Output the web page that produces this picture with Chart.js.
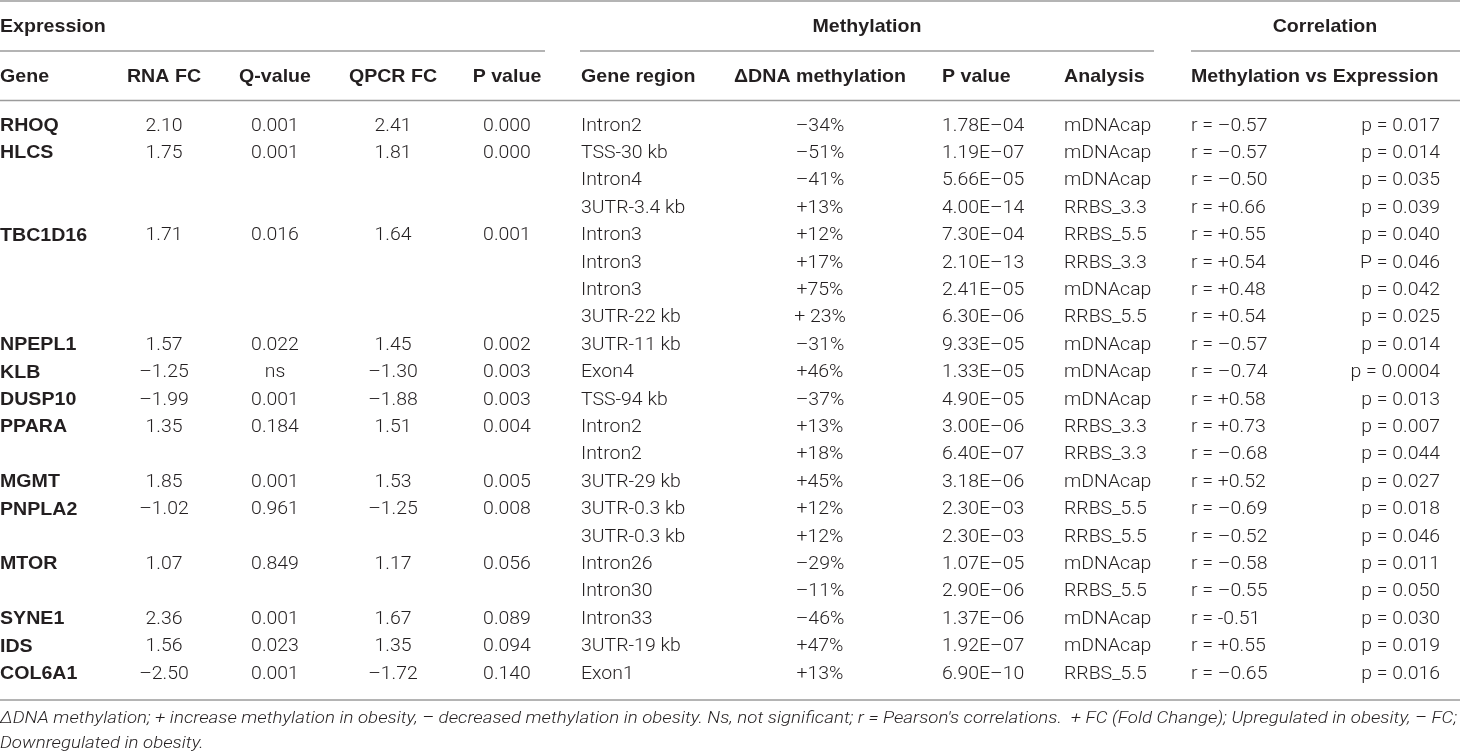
<!DOCTYPE html>
<html>
<head>
<meta charset="utf-8">
<script src="https://cdn.jsdelivr.net/npm/chart.js@4.4.0/dist/chart.umd.min.js"></script>
<style>
  html, body { margin: 0; padding: 0; background: #fff; }
  #wrap { width: 1460px; height: 756px; position: relative; }
</style>
</head>
<body>
<div id="wrap"><canvas id="tbl"></canvas></div>
<script>
// table values, one array per column (rows top to bottom)
var genes = ['RHOQ', 'HLCS', '', '', 'TBC1D16', '', '', '', 'NPEPL1', 'KLB', 'DUSP10', 'PPARA', '', 'MGMT', 'PNPLA2', '', 'MTOR', '', 'SYNE1', 'IDS', 'COL6A1'];
var rnaFC = ['2.10', '1.75', '', '', '1.71', '', '', '', '1.57', '–1.25', '–1.99', '1.35', '', '1.85', '–1.02', '', '1.07', '', '2.36', '1.56', '–2.50'];
var qValue = ['0.001', '0.001', '', '', '0.016', '', '', '', '0.022', 'ns', '0.001', '0.184', '', '0.001', '0.961', '', '0.849', '', '0.001', '0.023', '0.001'];
var qpcrFC = ['2.41', '1.81', '', '', '1.64', '', '', '', '1.45', '–1.30', '–1.88', '1.51', '', '1.53', '–1.25', '', '1.17', '', '1.67', '1.35', '–1.72'];
var pExpr = ['0.000', '0.000', '', '', '0.001', '', '', '', '0.002', '0.003', '0.003', '0.004', '', '0.005', '0.008', '', '0.056', '', '0.089', '0.094', '0.140'];
var geneRegion = ['Intron2', 'TSS-30 kb', 'Intron4', '3UTR-3.4 kb', 'Intron3', 'Intron3', 'Intron3', '3UTR-22 kb', '3UTR-11 kb', 'Exon4', 'TSS-94 kb', 'Intron2', 'Intron2', '3UTR-29 kb', '3UTR-0.3 kb', '3UTR-0.3 kb', 'Intron26', 'Intron30', 'Intron33', '3UTR-19 kb', 'Exon1'];
var deltaMeth = ['–34%', '–51%', '–41%', '+13%', '+12%', '+17%', '+75%', '+ 23%', '–31%', '+46%', '–37%', '+13%', '+18%', '+45%', '+12%', '+12%', '–29%', '–11%', '–46%', '+47%', '+13%'];
var pMeth = ['1.78E–04', '1.19E–07', '5.66E–05', '4.00E–14', '7.30E–04', '2.10E–13', '2.41E–05', '6.30E–06', '9.33E–05', '1.33E–05', '4.90E–05', '3.00E–06', '6.40E–07', '3.18E–06', '2.30E–03', '2.30E–03', '1.07E–05', '2.90E–06', '1.37E–06', '1.92E–07', '6.90E–10'];
var analysis = ['mDNAcap', 'mDNAcap', 'mDNAcap', 'RRBS_3.3', 'RRBS_5.5', 'RRBS_3.3', 'mDNAcap', 'RRBS_5.5', 'mDNAcap', 'mDNAcap', 'mDNAcap', 'RRBS_3.3', 'RRBS_3.3', 'mDNAcap', 'RRBS_5.5', 'RRBS_5.5', 'mDNAcap', 'RRBS_5.5', 'mDNAcap', 'mDNAcap', 'RRBS_5.5'];
var corrR = ['r = –0.57', 'r = –0.57', 'r = –0.50', 'r = +0.66', 'r = +0.55', 'r = +0.54', 'r = +0.48', 'r = +0.54', 'r = –0.57', 'r = –0.74', 'r = +0.58', 'r = +0.73', 'r = –0.68', 'r = +0.52', 'r = –0.69', 'r = –0.52', 'r = –0.58', 'r = –0.55', 'r = -0.51', 'r = +0.55', 'r = –0.65'];
var corrP = ['p = 0.017', 'p = 0.014', 'p = 0.035', 'p = 0.039', 'p = 0.040', 'P = 0.046', 'p = 0.042', 'p = 0.025', 'p = 0.014', 'p = 0.0004', 'p = 0.013', 'p = 0.007', 'p = 0.044', 'p = 0.027', 'p = 0.018', 'p = 0.046', 'p = 0.011', 'p = 0.050', 'p = 0.030', 'p = 0.019', 'p = 0.016'];

var groupTitles = ['Expression', 'Methylation', 'Correlation'];
var footnote = [
  'ΔDNA methylation; + increase methylation in obesity, – decreased methylation in obesity. Ns, not significant; r = Pearson\'s correlations.  + FC (Fold Change); Upregulated in obesity, – FC;',
  'Downregulated in obesity.'
];

// column layout (anchor on the x scale + alignment)
var columns = [
  { vals: genes,      head: 'Gene',             x: 0,    align: 'left',   bold: true },
  { vals: rnaFC,      head: 'RNA FC',           x: 164,  align: 'center' },
  { vals: qValue,     head: 'Q-value',          x: 275,  align: 'center' },
  { vals: qpcrFC,     head: 'QPCR FC',          x: 393,  align: 'center' },
  { vals: pExpr,      head: 'P value',          x: 507,  align: 'center' },
  { vals: geneRegion, head: 'Gene region',      x: 581,  align: 'left' },
  { vals: deltaMeth,  head: 'ΔDNA methylation', x: 820,  align: 'center' },
  { vals: pMeth,      head: 'P value',          x: 942,  align: 'left' },
  { vals: analysis,   head: 'Analysis',         x: 1064, align: 'left' },
  { vals: corrR,      head: 'Methylation vs Expression', x: 1191, align: 'left' },
  { vals: corrP,      head: '',                 x: 1440, align: 'right' }
];

var INK = '#231f20';
var RULE = '#9b9b9b';
var BODY = '300 18px Roboto, "Liberation Sans", sans-serif';
var BOLD = 'bold 18.5px "Liberation Sans", Arial, sans-serif';

function txt(ctx, s, x, y, align, font, sx) {
  ctx.save();
  ctx.font = font;
  ctx.textAlign = align;
  ctx.textBaseline = 'middle';
  ctx.fillStyle = INK;
  ctx.translate(x, y);
  ctx.scale(sx, 1);
  ctx.fillText(s, 0, 0);
  ctx.restore();
}

function rule(ctx, x0, x1, y) {
  ctx.save();
  ctx.strokeStyle = RULE;
  ctx.lineWidth = 1.5;
  ctx.beginPath();
  ctx.moveTo(x0, y);
  ctx.lineTo(x1, y);
  ctx.stroke();
  ctx.restore();
}

var tablePlugin = {
  id: 'tablePlugin',
  afterDatasetsDraw: function (chart) {
    var ctx = chart.ctx;
    var xs = chart.scales.x;

    // rules
    rule(ctx, 0, 1460, 1);
    rule(ctx, xs.getPixelForValue(0), xs.getPixelForValue(545), 51);
    rule(ctx, xs.getPixelForValue(580), xs.getPixelForValue(1154), 51);
    rule(ctx, xs.getPixelForValue(1191), xs.getPixelForValue(1460), 51);
    rule(ctx, 0, 1460, 100.5);
    rule(ctx, 0, 1460, 700);

    // group titles
    txt(ctx, groupTitles[0], xs.getPixelForValue(0), 27, 'left', BOLD, 1.06);
    txt(ctx, groupTitles[1], xs.getPixelForValue(867), 27, 'center', BOLD, 1.06);
    txt(ctx, groupTitles[2], xs.getPixelForValue(1325), 27, 'center', BOLD, 1.06);

    // column heads
    columns.forEach(function (c) {
      if (c.head) txt(ctx, c.head, xs.getPixelForValue(c.x), 77, c.align, BOLD, 1.06);
    });

    // cells, placed at each point element
    chart.data.datasets.forEach(function (ds, i) {
      var meta = chart.getDatasetMeta(i);
      var c = columns[i];
      meta.data.forEach(function (el, j) {
        var s = c.vals[j];
        if (!s) return;
        txt(ctx, s, el.x, el.y, c.align, c.bold ? BOLD : BODY, c.bold ? 1.06 : 1.08);
      });
    });

    // footnote, fitted to the full width
    var FOOT = 'italic 300 17px Roboto, "Liberation Sans", sans-serif';
    ctx.save();
    ctx.font = FOOT;
    var w = ctx.measureText(footnote[0]).width;
    ctx.restore();
    var sx = 1457 / w;
    txt(ctx, footnote[0], 0, 719, 'left', FOOT, sx);
    txt(ctx, footnote[1], 0, 744, 'left', FOOT, sx);
  }
};

new Chart(document.getElementById('tbl').getContext('2d'), {
  type: 'scatter',
  data: {
    datasets: columns.map(function (c) {
      return {
        data: c.vals.map(function (v, i) { return { x: c.x, y: i }; }),
        pointRadius: 0,
        pointHoverRadius: 0
      };
    })
  },
  options: {
    responsive: true,
    maintainAspectRatio: false,
    animation: false,
    events: [],
    layout: { padding: { top: 112.3, bottom: 68.3, left: 0, right: 0 } },
    scales: {
      x: { type: 'linear', min: 0, max: 1460, display: false },
      y: { type: 'linear', min: -0.5, max: 20.5, reverse: true, display: false }
    },
    plugins: {
      legend: { display: false },
      tooltip: { enabled: false }
    }
  },
  plugins: [tablePlugin]
});
</script>
</body>
</html>
